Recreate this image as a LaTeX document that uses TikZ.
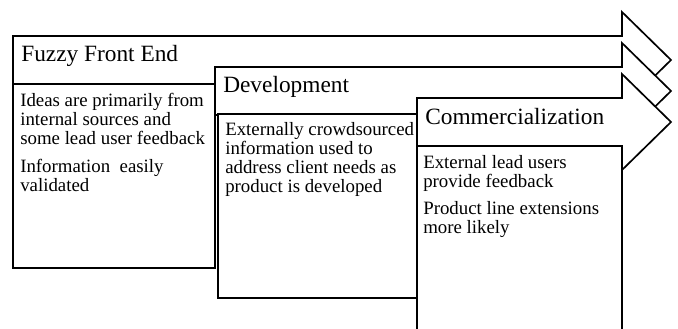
\documentclass[tikz,border=0pt]{standalone}
\usepackage{fontspec}
\setmainfont{Liberation Serif}

\tikzset{
    stagearrow/.style={draw, fill=white, line width=1.2pt, line join=miter},
    stagebox/.style={draw, fill=white, line width=1.4pt, inner sep=0pt, outer sep=0pt, anchor=north west},
    stagetitle/.style={anchor=base west, inner sep=0pt, font=\fontsize{16.6}{20}\selectfont},
    stagetext/.style={anchor=north west, inner sep=0pt, align=left, font=\fontsize{13.4}{13.5}\selectfont},
}

\begin{document}
\begin{tikzpicture}
    \useasboundingbox (0,0) rectangle (16.95,8.2);

    % Fuzzy Front End
    \filldraw[stagearrow] (0.325,7.3) -- (15.55,7.3) -- (15.55,7.9) -- (16.775,6.7)
        -- (15.55,5.5) -- (15.55,6.1) -- (0.325,6.1) -- cycle;
    \node[stagetitle] (titleA) at (0.525,6.65) {Fuzzy Front End};
    \node[stagebox, minimum width=5.05cm, minimum height=4.6cm] (boxA) at (0.325,6.1) {};
    \node[stagetext] (textA) at ([shift={(0.175,-0.23)}]boxA.north west)
        {Ideas are primarily from\\internal sources and\\some lead user feedback\\[6pt]Information\ \ easily\\validated};

    % Development
    \filldraw[stagearrow] (5.375,6.525) -- (15.55,6.525) -- (15.55,7.125) -- (16.775,5.925)
        -- (15.55,4.725) -- (15.55,5.325) -- (5.375,5.325) -- cycle;
    \node[stagetitle] (titleB) at (5.575,5.875) {Development};
    \node[stagebox, minimum width=4.975cm, minimum height=4.6cm] (boxB) at (5.45,5.35) {};
    \node[stagetext] (textB) at ([shift={(0.175,-0.2)}]boxB.north west)
        {Externally crowdsourced\\information used to\\address client needs as\\product is developed};

    % Commercialization
    \filldraw[stagearrow] (10.425,5.75) -- (15.55,5.75) -- (15.55,6.35) -- (16.775,5.15)
        -- (15.55,3.95) -- (15.55,4.55) -- (10.425,4.55) -- cycle;
    \node[stagetitle] (titleC) at (10.625,5.075) {Commercialization};
    \node[stagebox, minimum width=5.125cm, minimum height=4.8cm] (boxC) at (10.425,4.55) {};
    \node[stagetext] (textC) at ([shift={(0.15,-0.23)}]boxC.north west)
        {External lead users\\provide feedback\\[6pt]Product line extensions\\more likely};
\end{tikzpicture}
\end{document}
